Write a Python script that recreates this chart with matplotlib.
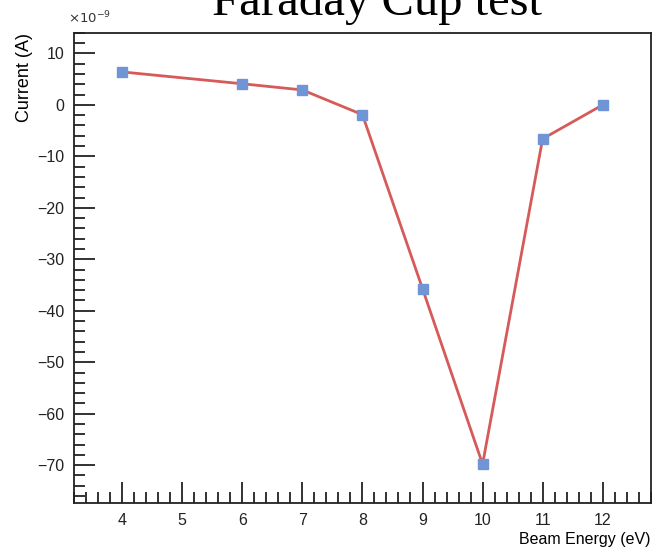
import matplotlib.pyplot as plt
from matplotlib.ticker import MultipleLocator

energy = [4, 6, 7, 8, 9, 10, 11, 12]
current = [6.4, 4.1, 2.9, -1.9, -35.7, -69.8, -6.6, 0.0]  # x 1e-9 A

plt.rcParams['font.family'] = ['Liberation Sans', 'DejaVu Sans']

fig = plt.figure(figsize=(6.56, 5.47), dpi=100)
ax = fig.add_axes([0.113, 0.080, 0.879, 0.860])

ax.plot(energy, current, color='#d65a5a', lw=2, zorder=2)
ax.plot(energy, current, ls='none', marker='s', ms=7, color='#7095d6', zorder=3)

ax.set_xlim(3.2, 12.8)
ax.set_ylim(-77.4, 14.0)
ax.xaxis.set_major_locator(MultipleLocator(1))
ax.xaxis.set_minor_locator(MultipleLocator(0.2))
ax.yaxis.set_major_locator(MultipleLocator(10))
ax.yaxis.set_minor_locator(MultipleLocator(2))

ax.tick_params(which='both', direction='in', top=False, right=False,
               labelsize=11.5, colors='#222222', width=1.3)
ax.tick_params(which='major', length=15, pad=7)
ax.tick_params(which='minor', length=8)
for s in ax.spines.values():
    s.set_linewidth(1.3)
    s.set_color('#222222')

ax.set_xlabel('Beam Energy (eV)', fontsize=11.5, loc='right', labelpad=3)
ax.set_ylabel('Current (A)', fontsize=13, loc='top', labelpad=3)
fig.text(0.103, 0.958, r'$\times10^{-9}$', fontsize=9.5, color='#333333')

fig.text(0.575, 0.9726, 'Faraday Cup test', fontsize=35, ha='center', va='baseline',
         family=['Liberation Serif'])

fig.savefig('out.png', dpi=100)
